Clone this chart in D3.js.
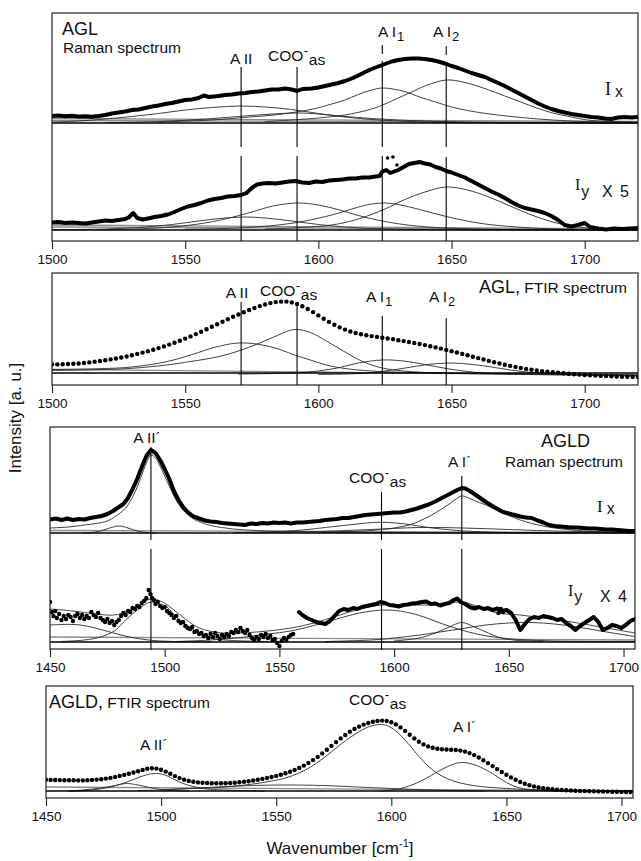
<!DOCTYPE html>
<html><head><meta charset="utf-8">
<script src="https://cdn.jsdelivr.net/npm/d3@7"></script>
<style>
body{margin:0;background:#fff}
svg{display:block}
text{font-family:"Liberation Sans",Arial,Helvetica,sans-serif;fill:#111}
</style>
</head><body><script>
// ---------------- DATA (wavenumber cm-1, intensity a.u.) ----------------
const aglTicks = [1500,1550,1600,1650,1700];
const agldTicks = [1450,1500,1550,1600,1650,1700];
const aglMarks = [1571,1592,1624,1648];
const agldMarks = [1494,1594.5,1629.5];

// AGL Raman Ix
const aglIx = [[1500,7],[1502.5,7.5],[1505,6.8],[1507.5,7.2],[1510,6.5],[1512.5,6.8],[1515,6.3],[1517.5,7],[1520,8],[1522.5,9.5],[1525,10.5],[1527.5,11.5],[1530,13],[1532.5,13.5],[1535,15],[1537.5,16.5],[1540,17.5],[1542.5,19],[1545,20],[1547.5,21.5],[1550,23],[1552.5,23.5],[1555,25],[1557,27.5],[1559,26],[1562.5,27],[1565,28],[1567.5,28.5],[1570,29.5],[1572.5,30],[1575,31],[1577.5,31.5],[1580,32.5],[1582.5,33.5],[1585,33.5],[1587.5,34.5],[1590,33.5],[1592,32],[1594,34],[1597.5,34.5],[1600,35.5],[1602.5,37],[1605,38.5],[1607.5,40],[1610,42],[1612.5,44.5],[1615,47.5],[1617.5,51],[1620,54],[1622.5,56.5],[1625,59],[1627.5,61.5],[1630,63],[1632.5,64],[1635,64.5],[1637.5,64.5],[1640,64],[1642.5,63],[1645,61.5],[1647.5,59.5],[1650,57],[1652.5,55],[1655,52.5],[1657.5,50],[1660,48],[1662.5,46],[1665,43],[1667.5,40],[1670,37],[1672.5,33.5],[1675,30],[1677.5,26.5],[1680,23],[1682.5,19.5],[1685,16.5],[1687.5,14],[1690,12],[1692.5,10.5],[1695,9],[1697.5,8],[1700,7],[1702.5,6],[1705,5.5],[1707.5,4.5],[1710,4],[1712.5,5.5],[1715,6],[1717.5,5.5],[1720,6]];
const aglIxAII = [[1500,1],[1510,2],[1520,4],[1530,6.5],[1540,9.5],[1550,13],[1560,15.5],[1571,17],[1580,16],[1590,13.5],[1600,9.5],[1610,6],[1620,3.5],[1630,2],[1640,1],[1660,0.3],[1720,0]];
const aglIxCOO = [[1520,0.3],[1540,1.5],[1555,3.5],[1570,6.5],[1580,8.5],[1592,10],[1600,9],[1610,6.5],[1620,4.5],[1630,3],[1640,2],[1655,1],[1680,0.3],[1720,0]];
const aglIxAI1 = [[1540,1],[1560,3],[1572,5.5],[1585,8.5],[1598,14],[1605,19],[1610,23],[1615,28.5],[1620,33],[1624,35],[1628,34],[1633,31],[1638,26],[1644,21],[1650,16],[1656,12.5],[1663,9.5],[1676,5.5],[1688,3],[1700,1.5],[1720,0.6]];
const aglIxAI2 = [[1580,1.5],[1590,3],[1600,5],[1610,8],[1620,14],[1625,19],[1630,25],[1635,31],[1640,37],[1648,43],[1655,40.5],[1663,34],[1670,27],[1676,21],[1682,15],[1688,10],[1695,6],[1701,3],[1710,1.5],[1720,0.8]];
const aglIxBg1 = [[1500,4.5],[1720,1.5]];
const aglIxBg2 = [[1500,2.5],[1720,0.5]];

// AGL Raman Iy (x5)
const aglIy = [[1500,7.5],[1502.5,8],[1505,7],[1507.5,7.5],[1510,7],[1512.5,6.5],[1515,7.5],[1517.5,8.5],[1520,9.5],[1522.5,9],[1525,10],[1527.5,11],[1529,13],[1530.5,17],[1532,12],[1534,10.5],[1536,11.5],[1538.5,13],[1541,14],[1543.5,15.5],[1546,18],[1548.5,21],[1551,23.5],[1553.5,25],[1556,27],[1558.5,29.5],[1561,31],[1563.5,32],[1566,33.5],[1568.5,34],[1571,35],[1573,37],[1575,42],[1577,45.5],[1579,46.5],[1581.5,47],[1584,46.5],[1586.5,47.5],[1589,48.5],[1591.5,49],[1594,47.5],[1596.5,47],[1599,48.5],[1601.5,48],[1604,49.5],[1606.5,50],[1609,50.5],[1611.5,51.5],[1614,51.5],[1616.5,52.5],[1619,52.5],[1621.5,53.5],[1623,54],[1624,58.5],[1625.5,60],[1627,57],[1628.5,58.5],[1630,60],[1632,63],[1634,66],[1636,67],[1638,68],[1640,66.5],[1642,65.5],[1644,63],[1646,61.5],[1648,59],[1650,57.5],[1652.5,55],[1655,52.5],[1657.5,49],[1660,45.5],[1662.5,42],[1665,38.5],[1667.5,35.5],[1670,32],[1672.5,28],[1675,24.5],[1677.5,22],[1680,20.5],[1682.5,19],[1685,17],[1687.5,14],[1690,10],[1692.5,5],[1695,3.5],[1697.5,5],[1700,7],[1702,3],[1705,1.5],[1708,0.5],[1711,1.5],[1714,1],[1717,1.5],[1720,2]];
const aglIyDots = [[1626,72],[1628,73],[1629.5,65]];
const aglIyAII = [[1500,0.3],[1520,1],[1535,3],[1545,5.5],[1555,9],[1563,11.5],[1572,13],[1580,12],[1590,9],[1600,5.5],[1610,3],[1620,1.5],[1640,0.5],[1720,0]];
const aglIyCOO = [[1520,0.5],[1540,2],[1555,6],[1565,11],[1575,18],[1583,24],[1592,27],[1600,25],[1608,20],[1615,14.5],[1625,8.5],[1635,4.5],[1648,2],[1670,0.5],[1720,0]];
const aglIyAI1 = [[1550,0.8],[1570,2],[1585,5],[1595,9],[1605,15],[1612,20.5],[1618,25],[1624,27],[1630,25.5],[1638,20.5],[1648,13.5],[1660,7],[1672,3.5],[1690,1],[1720,0.3]];
const aglIyAI2 = [[1580,1],[1590,2],[1605,5],[1615,11],[1625,21],[1632,30],[1640,38],[1648,43],[1656,40],[1664,33],[1672,24],[1680,15],[1688,8],[1696,3.5],[1705,1.5],[1720,0.5]];
const aglIyBg1 = [[1500,5],[1720,1]];
const aglIyBg2 = [[1500,3],[1720,0.5]];

// AGL FTIR
const aglFtir = [[1500,12.5],[1502,12.6],[1504,12.8],[1506,13],[1508,13.2],[1510,13.5],[1512,14],[1514,14.6],[1516,15.2],[1518,16],[1520,16.8],[1522,17.6],[1524,18.5],[1526,19.5],[1528,20.6],[1530,21.8],[1532,23.1],[1534,24.4],[1536,25.8],[1538,27.3],[1540,28.9],[1542,30.6],[1544,32.4],[1546,34.3],[1548,36.3],[1550,38.4],[1552,40.6],[1554,42.9],[1556,45.3],[1558,47.8],[1560,50.3],[1562,52.8],[1564,55.3],[1566,57.8],[1568,60.2],[1570,62.5],[1572,64.8],[1574,67],[1576,69],[1578,70.9],[1580,72.5],[1582,73.9],[1584,74.9],[1586,75.4],[1588,75.4],[1590,74.6],[1592,73],[1594,70.8],[1596,68],[1598,64.9],[1600,61.6],[1602,58.3],[1604,55.1],[1606,52.2],[1608,49.6],[1610,47.4],[1612,45.5],[1614,44],[1616,42.8],[1618,41.8],[1620,40.9],[1622,40.1],[1624,39.3],[1626,38.5],[1628,37.7],[1630,36.8],[1632,35.9],[1634,35],[1636,34],[1638,33],[1640,31.9],[1642,30.8],[1644,29.6],[1646,28.4],[1648,27.1],[1650,25.8],[1652,24.5],[1654,23.1],[1656,21.7],[1658,20.3],[1660,18.9],[1662,17.5],[1664,16.1],[1666,14.8],[1668,13.5],[1670,12.3],[1672,11.1],[1674,10],[1676,9],[1678,8.1],[1680,7.3],[1682,6.6],[1684,5.9],[1686,5.3],[1688,4.7],[1690,4.2],[1692,3.7],[1694,3.2],[1696,2.8],[1698,2.4],[1700,2],[1702,1.7],[1704,1.4],[1706,1.1],[1708,0.9],[1710,0.7],[1712,0.5],[1714,0.3],[1716,0.2],[1718,0.1],[1720,0]];
const aglFtirAII = [[1500,7.5],[1520,8.5],[1530,10],[1543,15.3],[1552,22],[1562,30.3],[1570,34],[1578,32.5],[1585,28],[1591,22],[1597,17],[1603,12],[1610,8.5],[1620,6],[1635,4.5],[1660,3.5],[1720,2]];
const aglFtirCOO = [[1500,6.5],[1520,7.5],[1530,8.7],[1543,12],[1552,15.5],[1562,20],[1570,26],[1578,34],[1585,42],[1591,47.5],[1597,44.5],[1603,36],[1610,25],[1617,15],[1624,9],[1632,6],[1645,4],[1670,3],[1720,2]];
const aglFtirAI1 = [[1570,3],[1590,4],[1600,6],[1608,9.5],[1615,14],[1624,17],[1632,16],[1640,12.5],[1648,8.5],[1656,5.5],[1665,3.5],[1680,2.5],[1720,1.5]];
const aglFtirAI2 = [[1600,2.5],[1615,3.5],[1625,6],[1635,10],[1642,12.8],[1650,14],[1658,12.5],[1665,10],[1672,7],[1680,4.5],[1690,3],[1700,2],[1720,1]];
const aglFtirBg1 = [[1500,7.7],[1720,1.5]];

// AGLD Raman Ix
const agldIx = [[1450,13.5],[1452.5,14.5],[1455,13],[1457.5,14.5],[1460,13],[1462.5,14],[1465,13.5],[1467.5,15],[1470,16],[1472.5,17],[1475,19],[1477.5,22],[1480,26],[1482,29],[1484,35],[1486,44],[1488,54],[1490,66],[1492,77],[1494,83],[1496,80],[1498,73],[1500,64],[1502,54],[1504,42],[1506,33],[1508,26],[1510,21],[1512.5,16.5],[1515,14.5],[1517.5,12.5],[1520,11.5],[1522.5,11],[1525,10],[1527.5,9.5],[1530,9],[1532.5,8.5],[1535,8],[1537.5,9.5],[1540,9],[1542.5,10],[1545,9.5],[1547.5,10.5],[1550,10],[1552.5,10.5],[1555,9.5],[1557.5,10.5],[1560,10.5],[1562.5,11],[1565,11.5],[1567.5,12],[1570,13],[1572.5,13.5],[1575,14],[1577.5,15],[1580,15],[1582.5,16],[1585,17],[1587.5,18],[1590,18.5],[1592.5,19],[1595,19.5],[1597.5,20],[1600,20.5],[1602.5,20.5],[1605,21.5],[1607.5,23],[1610,24.5],[1612.5,26.5],[1615,28.5],[1617.5,31],[1620,34],[1622.5,37],[1625,40],[1627.5,43],[1629.5,45],[1631,44.5],[1633,42],[1635,39],[1637.5,35],[1640,31],[1642.5,27.5],[1645,24],[1647.5,21],[1650,19.5],[1652.5,18],[1655,16.5],[1657.5,15.5],[1660,15],[1662.5,12.5],[1665,10.5],[1667.5,8],[1670,7],[1672.5,6.5],[1675,6],[1677.5,5.5],[1680,5.5],[1682.5,5],[1685,4.5],[1687.5,4.5],[1690,4],[1692.5,3.5],[1695,3.5],[1697.5,3],[1700,2.5],[1702.5,2],[1705,2]];
const agldIxAII = [[1450,5],[1458,6],[1465,8],[1470,9.5],[1475,12],[1480,19],[1483,25],[1486,36],[1488,46],[1490,58],[1492,70],[1494,78],[1496,75],[1498,67],[1500,57],[1502,47],[1504,37],[1506,29],[1508,23],[1510,18.5],[1513,13.5],[1516,10.5],[1520,7.5],[1530,4],[1540,2.5],[1555,1.5],[1580,0.5],[1705,0]];
const agldIxSmall = [[1464,0],[1468,0.5],[1472,2],[1476,5],[1480,7],[1484,5],[1488,2],[1492,0.5],[1496,0]];
const agldIxCOO = [[1530,0.3],[1545,1],[1560,3],[1570,5.5],[1580,8],[1588,10],[1594,10.7],[1600,10.2],[1608,8],[1615,5.5],[1625,3],[1635,1.5],[1650,0.5],[1680,0]];
const agldIxAI = [[1570,0.8],[1590,2.5],[1600,5],[1608,9],[1612,13],[1616,17.5],[1620,23],[1624,29],[1627,34],[1629.5,37],[1632,35.5],[1635,32.5],[1640,28],[1645,22.5],[1650,17.5],[1655,13],[1660,9.5],[1665,7],[1670,5],[1680,2.5],[1690,1.2],[1705,0.5]];
const agldIxBroad = [[1540,0.5],[1560,1],[1590,3.5],[1611,5.5],[1630,5],[1650,3.5],[1670,2],[1705,0.8]];
const agldIxBg = [[1450,2.5],[1705,0.5]];

// AGLD Raman Iy (x4)
const agldIyDots = [[1450,40],[1450.8,30],[1451.5,26],[1452.3,31],[1453,24],[1454,28],[1455,22],[1456,26],[1457,23],[1458,27],[1459,25],[1460,21],[1461,26],[1462,28],[1463,24],[1464,27],[1465,23],[1466,26],[1467,24],[1468,30],[1469,27],[1470,25],[1471,29],[1472,24],[1473,22],[1474,20],[1475,23],[1476,19],[1477,21],[1478,17],[1479,20],[1480,22],[1481,26],[1482,29],[1483,27],[1484,31],[1485,30],[1486,34],[1487,33],[1488,36],[1489,35],[1490,39],[1491,41],[1492,44],[1493,52],[1493.8,48],[1494.5,44],[1495.3,42],[1496,38],[1497,40],[1498,36],[1499,34],[1500,35],[1501,31],[1502,29],[1503,27],[1504,24],[1505,26],[1506,21],[1507,19],[1508,20],[1509,16],[1510,14],[1511,13],[1512,15],[1513,10],[1514,11],[1515,8],[1516,9],[1517,6],[1518,7],[1519,4],[1520,8],[1521,5],[1522,9],[1523,6],[1524,3],[1525,7],[1526,5],[1527,8],[1528,6],[1529,10],[1530,9],[1531,12],[1532,10],[1533,14],[1534,11],[1535,9],[1536,12],[1537,7],[1538,4],[1539,2],[1540,5],[1541,3],[1542,7],[1543,5],[1544,8],[1545,4],[1546,6],[1547,2],[1548,3],[1549,-1],[1550,-4],[1551,1],[1552,4],[1553,2],[1554,5],[1555,7],[1556,8],[1645.5,29],[1646.5,33],[1647.5,30]];
const agldIy = [[1558.5,30],[1560,27],[1562,24],[1564,22],[1566,20],[1568,19],[1570,18],[1572,21],[1574,26],[1576,31],[1578,33],[1580,32],[1582,34],[1584,33],[1586,35],[1588,36],[1590,37],[1592,38],[1594,40],[1596,39],[1598,37],[1600,36.5],[1602,35.5],[1604,37],[1606,37.5],[1608,38.5],[1610,39],[1612,40],[1614,40.5],[1616,38],[1618,38.5],[1620,36.5],[1622,38],[1624,39],[1626,42],[1627.5,43.5],[1629,40],[1631,38],[1633,35],[1635,33.5],[1637,35],[1639,33],[1641,34],[1643,32],[1645,33.5],[1647,31],[1649,32],[1651,29],[1653,22],[1655,12],[1657,18],[1659,23],[1661,25],[1663,24],[1665,26],[1667,25],[1669,24],[1671,22],[1673,23],[1675,19],[1677,16],[1679,12],[1681,16],[1683,19],[1685,22],[1687,25],[1689,20],[1691,12],[1693,14],[1695,17],[1697,16],[1699,14],[1701,17],[1703,21],[1705,23]];
const agldIyLeft = [[1450,17],[1455,17.5],[1461,17.5],[1467,15.5],[1473,12],[1480,7.5],[1487,4],[1495,1.5],[1505,0.5],[1520,0]];
const agldIyAII = [[1455,0.5],[1465,2],[1472,5],[1478,11],[1483,22],[1487,30],[1491,37],[1494,40],[1497,38.5],[1501,35],[1505,25],[1509,18],[1514,10],[1521,3.5],[1530,1.5],[1545,0.5]];
const agldIyCOO = [[1505,0.5],[1520,2],[1535,5],[1545,8],[1555,11],[1565,16.5],[1575,23],[1585,29],[1596,32],[1605,30],[1613,25],[1620,19],[1628,13],[1636,8],[1645,4.5],[1655,2.5],[1670,1],[1705,0.3]];
const agldIyAI = [[1600,1],[1611,4],[1618,9],[1624,15],[1629.5,19.5],[1635,15],[1641,9],[1646,4.5],[1652,2],[1665,0.5]];
const agldIyBroad = [[1570,0.5],[1590,2],[1600,4],[1611,7],[1620,10],[1630,13.5],[1640,17],[1650,19],[1660,19.5],[1670,18],[1680,15],[1690,11],[1698,8],[1705,5.5]];
const agldIyFit = [[1450,33],[1460,31],[1470,28],[1478,27],[1484,31],[1489,37],[1494,43],[1499,40],[1504,32],[1509,23],[1515,14],[1525,9],[1540,10],[1555,14],[1565,19],[1575,26],[1585,33],[1595,37],[1605,37],[1615,37],[1624,39],[1630,40],[1637,35],[1645,29],[1655,27],[1665,24],[1675,21],[1685,17],[1695,13],[1705,9]];
const agldIyBg = [[1450,5],[1705,2]];

// AGLD FTIR
const agldFtir = [[1450,11.2],[1452,11.1],[1454,11],[1456,10.9],[1458,10.8],[1460,10.8],[1462,10.7],[1464,10.6],[1466,10.6],[1468,10.8],[1470,11.1],[1472,11.4],[1474,11.8],[1476,12.4],[1478,13.1],[1480,14],[1482,15],[1484,16.1],[1486,17.3],[1488,18.5],[1490,19.8],[1492,21.1],[1494,22.2],[1496,22.8],[1498,22.4],[1500,21.2],[1502,19.4],[1504,17.2],[1506,14.9],[1508,12.9],[1510,11.3],[1512,10.1],[1514,9.2],[1516,8.6],[1518,8.2],[1520,8],[1522,7.8],[1524,7.7],[1526,7.7],[1528,7.8],[1530,8],[1532,8.3],[1534,8.7],[1536,9.2],[1538,9.8],[1540,10.5],[1542,11.3],[1544,12.1],[1546,13],[1548,14],[1550,15.1],[1552,16.3],[1554,17.7],[1556,19.3],[1558,21.1],[1560,23.1],[1562,25.4],[1564,28],[1566,30.9],[1568,34.1],[1570,37.6],[1572,41.3],[1574,45.1],[1576,48.9],[1578,52.6],[1580,56],[1582,59.2],[1584,62],[1586,64.4],[1588,66.4],[1590,68],[1592,69.3],[1594,70.1],[1596,70.4],[1598,70],[1600,68.8],[1602,66.6],[1604,63.6],[1606,60.1],[1608,56.3],[1610,52.6],[1612,49.3],[1614,46.6],[1616,44.6],[1618,43.2],[1620,42.3],[1622,41.8],[1624,41.5],[1626,41.3],[1628,41],[1630,40.4],[1632,39.4],[1634,37.9],[1636,35.9],[1638,33.5],[1640,30.8],[1642,27.9],[1644,24.9],[1646,21.9],[1648,19],[1650,16.2],[1652,13.6],[1654,11.2],[1656,9.1],[1658,7.3],[1660,5.8],[1662,4.6],[1664,3.6],[1666,2.8],[1668,2.2],[1670,1.7],[1672,1.3],[1674,1],[1676,0.7],[1678,0.5],[1680,0.3],[1682,0.1],[1684,0],[1686,-0.2],[1688,-0.3],[1690,-0.4],[1692,-0.5],[1694,-0.6],[1696,-0.7],[1698,-0.8],[1700,-0.9],[1702,-1],[1704,-1]];
const agldFtirCOO = [[1500,1.5],[1510,2.2],[1520,3],[1530,4.5],[1540,7],[1548,10],[1554,13],[1560,18],[1565,24],[1570,32],[1575,41],[1580,50],[1585,58],[1590,64],[1595,66.5],[1598,65.5],[1602,60],[1606,51],[1610,40],[1614,29.5],[1618,21],[1622,15],[1627,10],[1633,6.5],[1640,4.2],[1650,2.5],[1660,1.5],[1675,0.8],[1705,0.3]];
const agldFtirAI = [[1595,0],[1600,0.8],[1605,3],[1610,7],[1615,12.5],[1620,19],[1625,25],[1630,28.5],[1635,27],[1640,22.5],[1645,16],[1650,8.5],[1655,3.5],[1660,1.5],[1665,0.5],[1675,0]];
const agldFtirAII = [[1460,0],[1470,1],[1478,4],[1484,8],[1488,11.5],[1492,15],[1497,17.5],[1501,16.5],[1505,12.5],[1509,8],[1514,4.5],[1520,2],[1530,0.8],[1545,0]];
const agldFtirSmall = [[1460,0],[1466,1],[1474,3],[1480,5.5],[1485,7.5],[1490,6],[1495,3.5],[1500,1.5],[1505,0.5],[1512,0]];
const agldFtirBroad = [[1490,0.5],[1500,1],[1520,3.5],[1540,5.5],[1555,6],[1570,5.5],[1590,3.5],[1610,1.5],[1625,0.5],[1640,0]];
const agldFtirBg = [[1450,4],[1705,0]];

// ---------------- DRAWING ----------------
const W = 641, H = 861;
const svg = d3.select('body').append('svg').attr('width', W).attr('height', H);

function yScale(base) { return d3.scaleLinear().domain([0, 100]).range([base, base - 100]); }

function makePanel(o) {
  const x = d3.scaleLinear().domain(o.domain).range([o.x0, o.x1]);
  const cid = 'clip' + o.id;
  svg.append('clipPath').attr('id', cid).append('rect')
    .attr('x', o.x0).attr('y', o.top).attr('width', o.x1 - o.x0).attr('height', o.bottom - o.top);
  const g = svg.append('g').attr('clip-path', `url(#${cid})`);
  svg.append('rect').attr('x', o.x0).attr('y', o.top).attr('width', o.x1 - o.x0).attr('height', o.bottom - o.top)
    .attr('fill', 'none').attr('stroke', '#222').attr('stroke-width', 1.2);
  const ax = svg.append('g').attr('transform', `translate(0,${o.bottom})`)
    .call(d3.axisBottom(x).tickValues(o.ticks).tickSize(8).tickPadding(5).tickFormat(d3.format('d')));
  ax.select('.domain').remove();
  ax.selectAll('line').attr('stroke', '#222').attr('stroke-width', 1.1);
  ax.selectAll('text').style('font-family', '"Liberation Sans",Arial,sans-serif').style('font-size', '13.5px').attr('fill', '#111');
  return { x, g };
}

function drawCurve(g, x, y, data, style) {
  const ln = d3.line().x(d => x(d[0])).y(d => y(d[1])).curve(style.curve || d3.curveLinear);
  g.append('path').datum(data).attr('d', ln).attr('fill', 'none')
    .attr('stroke', style.color || '#222').attr('stroke-width', style.w || 0.9)
    .attr('stroke-linejoin', 'round').attr('stroke-linecap', 'round');
}
const comp = { color: '#2a2a2a', w: 0.9, curve: d3.curveCatmullRom.alpha(0.5) };
const bg = { color: '#8a8a8a', w: 1.3 };
const thick = { color: '#000', w: 4 };
function drawDots(g, x, y, data, r) {
  g.selectAll(null).data(data).enter().append('circle')
    .attr('cx', d => x(d[0])).attr('cy', d => y(d[1])).attr('r', r).attr('fill', '#000');
}
function hline(g, x, y, dom, v, w) {
  g.append('line').attr('x1', x(dom[0])).attr('x2', x(dom[1])).attr('y1', y(v)).attr('y2', y(v))
    .attr('stroke', '#000').attr('stroke-width', w);
}
function marker(x, v, segs) {
  segs.forEach(s => svg.append('line').attr('x1', x(v)).attr('x2', x(v)).attr('y1', s[0]).attr('y2', s[1])
    .attr('stroke', '#000').attr('stroke-width', 1.1));
}
function label(px, py, parts, anchor) {
  const t = svg.append('text').attr('x', px).attr('y', py).attr('text-anchor', anchor || 'start');
  parts.forEach(p => {
    const s = t.append('tspan').text(p.t).style('font-size', (p.s || 15) + 'px');
    if (p.dy) s.attr('dy', p.dy);
    if (p.dx) s.attr('dx', p.dx);
    if (p.x !== undefined) s.attr('x', p.x);
    if (p.f) s.style('font-family', p.f);
  });
  return t;
}
const SERIF = '"Liberation Serif","Times New Roman",serif';
function coo(px, py, s) {
  label(px, py, [{ t: 'COO', s: s }, { t: '-', s: s - 2, dy: -6, dx: 0.5 }, { t: 'as', s: s, dy: 9.5, dx: 0.5 }]);
}
function aI(px, py, sub) {
  label(px, py, [{ t: 'A I', s: 15.5 }, { t: sub, s: 13, dy: 4, dx: 1 }]);
}

// ----- Panel 1: AGL Raman -----
{
  const P = makePanel({ id: 1, domain: [1500, 1720], x0: 52, x1: 638, top: 13, bottom: 241, ticks: aglTicks });
  const x = P.x, g = P.g, dom = [1500, 1720];
  const yx = yScale(123), yy = yScale(230);
  [aglIxBg1, aglIxBg2].forEach(d => drawCurve(g, x, yx, d, bg));
  [aglIxAII, aglIxCOO, aglIxAI1, aglIxAI2].forEach(d => drawCurve(g, x, yx, d, comp));
  hline(g, x, yx, dom, 0, 1.6);
  drawCurve(g, x, yx, aglIx, thick);
  [aglIyBg1, aglIyBg2].forEach(d => drawCurve(g, x, yy, d, bg));
  [aglIyAII, aglIyCOO, aglIyAI1, aglIyAI2].forEach(d => drawCurve(g, x, yy, d, comp));
  hline(g, x, yy, dom, 0, 1.6);
  drawCurve(g, x, yy, aglIy, thick);
  drawDots(g, x, yy, aglIyDots, 1.8);
  marker(x, aglMarks[0], [[67, 147], [156, 241]]);
  marker(x, aglMarks[1], [[67, 147], [156, 241]]);
  marker(x, aglMarks[2], [[45, 54], [61, 147], [156, 241]]);
  marker(x, aglMarks[3], [[46, 55], [62, 147], [157, 241]]);
  label(62, 35, [{ t: 'AGL', s: 18 }]);
  label(63, 53, [{ t: 'Raman spectrum', s: 15.5 }]);
  label(x(aglMarks[0]), 64, [{ t: 'A II', s: 15.5 }], 'middle');
  coo(268, 61, 15.5);
  aI(378, 37, '1');
  aI(433, 37, '2');
  label(605, 95, [{ t: 'I', s: 18, f: SERIF }, { t: 'x', s: 16, dx: 4, dy: 2 }]);
  label(575, 190, [{ t: 'I', s: 16, f: SERIF }, { t: 'y', s: 16, dx: 1, dy: 7 }, { t: 'X', s: 16, x: 602 }, { t: '5', s: 16, x: 620 }]);
}

// ----- Panel 2: AGL FTIR -----
{
  const P = makePanel({ id: 2, domain: [1500, 1720], x0: 52, x1: 638, top: 273, bottom: 385, ticks: aglTicks });
  const x = P.x, g = P.g, dom = [1500, 1720];
  const y = yScale(377);
  drawCurve(g, x, y, aglFtirBg1, bg);
  [aglFtirAII, aglFtirCOO, aglFtirAI1, aglFtirAI2].forEach(d => drawCurve(g, x, y, d, comp));
  hline(g, x, y, dom, 4, 1.6);
  drawDots(g, x, y, aglFtir, 2.2);
  marker(x, aglMarks[0], [[302, 385]]);
  marker(x, aglMarks[1], [[304, 385]]);
  marker(x, aglMarks[2], [[316, 385]]);
  marker(x, aglMarks[3], [[318, 385]]);
  label(479, 293, [{ t: 'AGL,', s: 18 }, { t: ' FTIR spectrum', s: 15.5 }]);
  label(237, 298, [{ t: 'A II', s: 15.5 }], 'middle');
  coo(260, 296, 15.5);
  aI(366, 302, '1');
  aI(429, 302, '2');
}

// ----- Panel 3: AGLD Raman -----
{
  const P = makePanel({ id: 3, domain: [1450, 1705], x0: 50, x1: 635, top: 427, bottom: 649, ticks: agldTicks });
  const x = P.x, g = P.g, dom = [1450, 1705];
  const yx = yScale(533), yy = yScale(642);
  drawCurve(g, x, yx, agldIxBg, bg);
  [agldIxAII, agldIxSmall, agldIxCOO, agldIxAI, agldIxBroad].forEach(d => drawCurve(g, x, yx, d, comp));
  hline(g, x, yx, dom, 0, 1.6);
  drawCurve(g, x, yx, agldIx, thick);
  drawCurve(g, x, yy, agldIyBg, bg);
  [agldIyLeft, agldIyAII, agldIyCOO, agldIyAI, agldIyBroad].forEach(d => drawCurve(g, x, yy, d, comp));
  drawCurve(g, x, yy, agldIyFit, { color: '#333', w: 0.9, curve: d3.curveCatmullRom.alpha(0.5) });
  hline(g, x, yy, dom, 0, 1.6);
  drawDots(g, x, yy, agldIyDots, 2.2);
  drawCurve(g, x, yy, agldIy, thick);
  marker(x, agldMarks[0], [[447, 540], [549, 650]]);
  marker(x, agldMarks[1], [[492, 540], [549, 650]]);
  marker(x, agldMarks[2], [[476, 540], [549, 650]]);
  label(541, 447, [{ t: 'AGLD', s: 18 }]);
  label(505, 467, [{ t: 'Raman spectrum', s: 15.5 }]);
  label(147, 443, [{ t: 'A II´', s: 15.5 }], 'middle');
  label(448, 467, [{ t: 'A I´', s: 15.5 }]);
  coo(349, 483, 15.5);
  label(597, 512, [{ t: 'I', s: 17, f: SERIF }, { t: 'x', s: 16, dx: 4, dy: 2 }]);
  label(568, 596, [{ t: 'I', s: 16, f: SERIF }, { t: 'y', s: 16, dx: 1, dy: 6 }, { t: 'X', s: 16, x: 600 }, { t: '4', s: 16, x: 618 }]);
}

// ----- Panel 4: AGLD FTIR -----
{
  const P = makePanel({ id: 4, domain: [1450, 1705], x0: 46, x1: 633, top: 686, bottom: 798, ticks: agldTicks });
  const x = P.x, g = P.g, dom = [1450, 1705];
  const y = yScale(791);
  drawCurve(g, x, y, agldFtirBg, bg);
  [agldFtirCOO, agldFtirAI, agldFtirAII, agldFtirSmall, agldFtirBroad].forEach(d => drawCurve(g, x, y, d, comp));
  hline(g, x, y, dom, 0, 1.6);
  drawDots(g, x, y, agldFtir, 2.2);
  label(49, 708, [{ t: 'AGLD,', s: 18 }, { t: ' FTIR spectrum', s: 15.5 }]);
  label(140, 750, [{ t: 'A II´', s: 15.5 }]);
  label(453, 732, [{ t: 'A I´', s: 15.5 }]);
  coo(349, 705, 15.5);
}

// ----- Axis titles -----
svg.append('text').attr('transform', 'translate(21,418) rotate(-90)').attr('text-anchor', 'middle')
  .style('font-size', '17px').text('Intensity [a. u.]');
label(340, 854, [{ t: 'Wavenumber [cm', s: 17 }, { t: '-1', s: 11, dy: -7 }, { t: ']', s: 17, dy: 7 }], 'middle');
</script></body></html>
